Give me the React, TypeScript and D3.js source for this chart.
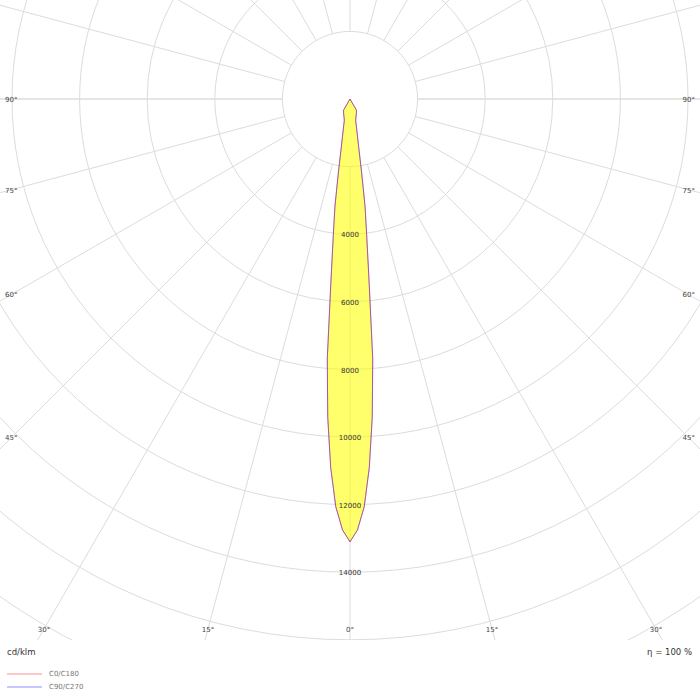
import { useEffect, useRef } from 'react';
import * as d3 from 'd3';

// intensity readings (cd/klm) against gamma angle
const gammaAngles = [0, 1, 2, 3, 4, 5, 6, 7, 8, 9, 10, 12, 15, 20, 25, 30, 35, 45, 60, 75, 90, 105, 120, 135, 150, 165, 180];
const c0c180 = [13100, 12750, 12070, 10920, 9440, 7720, 5380, 4050, 3200, 2190, 1550, 1000, 650, 530, 450, 380, 0, 0, 0, 0, 0, 0, 0, 0, 0, 0, 0];
const c90c270 = [13100, 12750, 12070, 10920, 9440, 7720, 5380, 4050, 3200, 2190, 1550, 1000, 650, 530, 450, 380, 0, 0, 0, 0, 0, 0, 0, 0, 0, 0, 0];

const ringValues = [2000, 4000, 6000, 8000, 10000, 12000, 14000, 16000, 18000, 20000, 22000, 24000, 26000];
const ringLabels = [4000, 6000, 8000, 10000, 12000, 14000];
const spokeAngles = d3.range(0, 360, 15);
const sideLabels = [90, 75, 60, 45];
const bottomLabels = [30, 15, 0];

const legendItems = [
  { name: 'C0/C180', color: '#ffb4b4' },
  { name: 'C90/C270', color: '#b4b4ff' },
];

const W = 700;
const H = 700;
const plotH = 640;
const cx = 350;
const cy = 99;
const font = "'DejaVu Sans', Verdana, sans-serif";

const PolarDiagram = () => {
  const ref = useRef<SVGSVGElement>(null);

  useEffect(() => {
    const svg = d3.select(ref.current);
    svg.selectAll('*').remove();

    const r = d3.scaleLinear().domain([0, 14000]).range([0, 473.2]);

    svg
      .append('defs')
      .append('clipPath')
      .attr('id', 'plotClip')
      .append('rect')
      .attr('x', 0)
      .attr('y', 0)
      .attr('width', W)
      .attr('height', plotH);

    const plot = svg.append('g').attr('clip-path', 'url(#plotClip)');
    const g = plot.append('g').attr('transform', `translate(${cx},${cy})`);

    // rings
    g.selectAll('.ring')
      .data(ringValues)
      .enter()
      .append('circle')
      .attr('class', 'ring')
      .attr('r', (d: number) => r(d))
      .attr('fill', 'none')
      .attr('stroke', '#dcdcdc')
      .attr('stroke-width', 1);

    // spokes, starting at the inner ring
    const inner = r(ringValues[0]);
    const outer = r(ringValues[ringValues.length - 1]);
    g.selectAll('.spoke')
      .data(spokeAngles)
      .enter()
      .append('line')
      .attr('class', 'spoke')
      .attr('x1', (d: number) => inner * Math.sin((d * Math.PI) / 180))
      .attr('y1', (d: number) => inner * Math.cos((d * Math.PI) / 180))
      .attr('x2', (d: number) => outer * Math.sin((d * Math.PI) / 180))
      .attr('y2', (d: number) => outer * Math.cos((d * Math.PI) / 180))
      .attr('stroke', '#dcdcdc')
      .attr('stroke-width', (d: number) => (d % 90 === 0 && d % 180 !== 0 ? 1.6 : 1));

    // curves: C-plane on the right half, opposite plane mirrored on the left
    const toPoints = (vals: number[]) => {
      const right = gammaAngles
        .map((a, i) => ({ a: Math.PI - (a * Math.PI) / 180, v: vals[i] }))
        .reverse();
      const left = gammaAngles.map((a, i) => ({ a: Math.PI + (a * Math.PI) / 180, v: vals[i] }));
      return right.concat(left.slice(1));
    };

    const radial = d3
      .lineRadial<{ a: number; v: number }>()
      .angle((d) => d.a)
      .radius((d) => r(d.v))
      .curve(d3.curveLinearClosed);

    [c0c180, c90c270].forEach((vals) => {
      g.append('path')
        .attr('d', radial(toPoints(vals)) as string)
        .attr('fill', '#ffff00')
        .attr('fill-opacity', 0.35)
        .attr('stroke', 'none');
    });

    g.append('path')
      .attr('d', radial(toPoints(c0c180)) as string)
      .attr('fill', 'none')
      .attr('stroke', '#e00000')
      .attr('stroke-opacity', 0.45)
      .attr('stroke-width', 1);
    g.append('path')
      .attr('d', radial(toPoints(c90c270)) as string)
      .attr('fill', 'none')
      .attr('stroke', '#3a1aff')
      .attr('stroke-opacity', 0.45)
      .attr('stroke-width', 1);

    // ring value labels
    g.selectAll('.rlabel')
      .data(ringLabels)
      .enter()
      .append('text')
      .attr('class', 'rlabel')
      .attr('x', 0)
      .attr('y', (d: number) => r(d))
      .attr('dy', '0.45em')
      .attr('text-anchor', 'middle')
      .style('font-family', font)
      .style('font-size', '7px')
      .style('fill', '#333')
      .text((d: number) => d);

    // angle labels on the sides
    sideLabels.forEach((a) => {
      const rad = (a * Math.PI) / 180;
      const y = cy + (cx - 12) / Math.tan(rad);
      [
        { x: 5, anchor: 'start' },
        { x: W - 5, anchor: 'end' },
      ].forEach((s) => {
        plot
          .append('text')
          .attr('x', s.x)
          .attr('y', a === 90 ? cy : y)
          .attr('dy', '0.45em')
          .attr('text-anchor', s.anchor)
          .style('font-family', font)
          .style('font-size', '7px')
          .style('fill', '#444')
          .text(`${a}°`);
      });
    });

    // angle labels along the bottom
    const by = 629;
    bottomLabels.forEach((a) => {
      const dx = (by - cy) * Math.tan((a * Math.PI) / 180);
      const xs = a === 0 ? [cx] : [cx - dx, cx + dx];
      xs.forEach((x) => {
        plot
          .append('text')
          .attr('x', x)
          .attr('y', by)
          .attr('dy', '0.45em')
          .attr('text-anchor', 'middle')
          .style('font-family', font)
          .style('font-size', '7px')
          .style('fill', '#444')
          .text(`${a}°`);
      });
    });

    // unit and efficiency
    svg
      .append('text')
      .attr('x', 7)
      .attr('y', 652)
      .attr('dy', '0.35em')
      .style('font-family', font)
      .style('font-size', '8.5px')
      .style('fill', '#333')
      .text('cd/klm');
    svg
      .append('text')
      .attr('x', 692)
      .attr('y', 652)
      .attr('dy', '0.35em')
      .attr('text-anchor', 'end')
      .style('font-family', font)
      .style('font-size', '8.5px')
      .style('fill', '#333')
      .text('η = 100 %');

    // legend
    const legend = svg
      .selectAll('.legend')
      .data(legendItems)
      .enter()
      .append('g')
      .attr('class', 'legend')
      .attr('transform', (_d: any, i: number) => `translate(7,${674 + i * 13})`);
    legend
      .append('line')
      .attr('x1', 0)
      .attr('x2', 35)
      .attr('stroke', (d: any) => d.color)
      .attr('stroke-width', 1.6);
    legend
      .append('text')
      .attr('x', 42)
      .attr('dy', '0.35em')
      .style('font-family', font)
      .style('font-size', '7px')
      .style('fill', '#777')
      .text((d: any) => d.name);
  }, []);

  return (
    <svg
      ref={ref}
      width={W}
      height={H}
      style={{ position: 'absolute', left: 0, top: 0, background: 'white' }}
    />
  );
};

export default function App() {
  return <PolarDiagram />;
}
